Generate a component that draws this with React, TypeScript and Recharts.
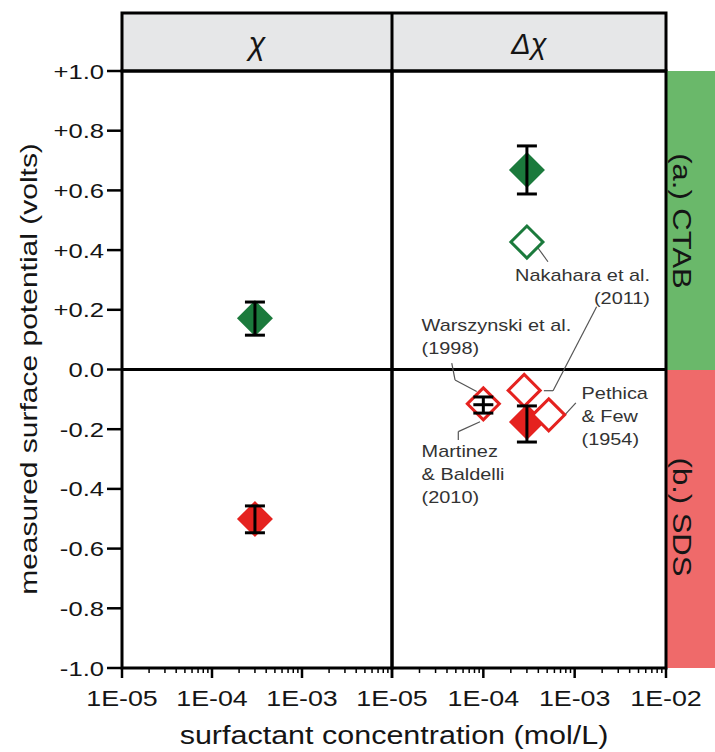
import React from "react";
import {
  ScatterChart,
  Scatter,
  XAxis,
  YAxis,
  ErrorBar,
  ReferenceArea,
  ReferenceLine,
} from "recharts";

const FONT = '"Liberation Sans", Arial, Helvetica, sans-serif';
const GREEN = "#1b7a3c";
const RED = "#e5221f";
const INK = "#151515";

// axis ticks
const xTicks = [
  1e-5, 2e-5, 3e-5, 4e-5, 5e-5, 6e-5, 7e-5, 8e-5, 9e-5,
  1e-4, 2e-4, 3e-4, 4e-4, 5e-4, 6e-4, 7e-4, 8e-4, 9e-4,
  1e-3, 2e-3, 3e-3, 4e-3, 5e-3, 6e-3, 7e-3, 8e-3, 9e-3,
  1e-2,
];
const yTicks = [-1, -0.8, -0.6, -0.4, -0.2, 0, 0.2, 0.4, 0.6, 0.8, 1];

// chi panel (left)
const chiCtab = [{ x: 3e-4, y: 0.172, err: [0.057, 0.054] }];
const chiSds = [{ x: 3e-4, y: -0.501, err: [0.046, 0.044] }];

// delta chi panel (right)
const dchiCtab = [{ x: 3e-4, y: 0.668, err: [0.08, 0.081] }];
const dchiCtabLit = [{ x: 3e-4, y: 0.427 }];
const dchiSds = [{ x: 3e-4, y: -0.176, err: [0.067, 0.054] }];
const dchiSdsLit = [
  { x: 1e-4, y: -0.115 },
  { x: 2.8e-4, y: -0.07 },
  { x: 5.2e-4, y: -0.152 },
];
const martinez = [{ x: 1e-4, y: -0.118, err: [0.028, 0.026] }];

// literature labels + leader lines (data coordinates)
const annotations = [
  { x: 6.68e-3, y: 0.296, anchor: "end", lines: ["Nakahara et al.", "(2011)"] },
  { x: 2.11e-5, y: 0.129, anchor: "start", lines: ["Warszynski et al.", "(1998)"] },
  { x: 2.11e-5, y: -0.293, anchor: "start", lines: ["Martinez", "& Baldelli", "(2010)"] },
  { x: 1.19e-3, y: -0.099, anchor: "start", lines: ["Pethica", "& Few", "(1954)"] },
];
const leaders = [
  [[3.97e-4, 0.407], [5.1e-4, 0.361]],
  [[4.6e-4, -0.071], [5.8e-4, -0.071], [1.74e-3, 0.21]],
  [[4.51e-5, 0.021], [4.9e-5, -0.035], [8.46e-5, -0.074]],
  [[9.2e-5, -0.175], [5.32e-5, -0.208], [5.32e-5, -0.236]],
  [[7.5e-4, -0.158], [1.03e-3, -0.112]],
];

const diamond = (cx: number, cy: number, r: number) =>
  `${cx},${cy - r} ${cx + r},${cy} ${cx},${cy + r} ${cx - r},${cy}`;

const filled = (color: string) => (p: any) =>
  <polygon points={diamond(p.cx, p.cy, 18)} fill={color} />;

const open = (color: string) => (p: any) =>
  <polygon points={diamond(p.cx, p.cy, 16)} fill="#fff" stroke={color} strokeWidth={3} />;

const dash = (p: any) =>
  <line x1={p.cx - 10} x2={p.cx + 10} y1={p.cy} y2={p.cy} stroke="#000" strokeWidth={3} />;

const AnnotationText = (p: any) => {
  const a = p.payload ?? p;
  return (
    <text
      transform={`translate(${p.cx},${p.cy}) scale(1.17,1)`}
      textAnchor={a.anchor}
      fontSize={17}
      fontFamily={FONT}
      fill="#333"
    >
      {a.lines.map((l: string, i: number) => (
        <tspan key={i} x={0} dy={i === 0 ? 0 : 23}>
          {l}
        </tspan>
      ))}
    </text>
  );
};

const YTick = (p: any) => {
  const v = p.payload.value;
  const label = v > 0 ? `+${v.toFixed(1)}` : v.toFixed(1);
  return (
    <g>
      <line x1={p.x - 15} x2={p.x} y1={p.y} y2={p.y} stroke="#000" strokeWidth={2.5} />
      <text
        transform={`translate(${p.x - 18},${p.y + 7.5}) scale(1.22,1)`}
        textAnchor="end"
        fontSize={21}
        fontFamily={FONT}
        fill={INK}
      >
        {label}
      </text>
    </g>
  );
};

const XTick = (p: any) => {
  const v = p.payload.value;
  const lg = Math.log10(v);
  const major = Math.abs(lg - Math.round(lg)) < 1e-6;
  const show = major && !(p.hideLast && Math.round(lg) === -2);
  return (
    <g>
      <line
        x1={p.x}
        x2={p.x}
        y1={p.y}
        y2={p.y + (major ? 10 : 5)}
        stroke="#000"
        strokeWidth={major ? 2.5 : 1.5}
      />
      {show && (
        <text
          transform={`translate(${p.x},${p.y + 38}) scale(1.22,1)`}
          textAnchor="middle"
          fontSize={22}
          fontFamily={FONT}
          fill={INK}
        >
          {"1E-" + String(-Math.round(lg)).padStart(2, "0")}
        </text>
      )}
    </g>
  );
};

// error bars sit on top of the diamonds, as in the figure
const errBar = (
  <ErrorBar
    dataKey="err"
    direction="y"
    width={10}
    stroke="#000"
    strokeWidth={3}
    {...({ zIndex: 700 } as any)}
  />
);

function xAxis(hideLast: boolean) {
  return (
    <XAxis
      type="number"
      dataKey="x"
      scale="log"
      domain={[1e-5, 1e-2]}
      ticks={xTicks}
      interval={0}
      tick={(p: any) => <XTick {...p} hideLast={hideLast} />}
      tickLine={false}
      axisLine={false}
      tickSize={0}
      tickMargin={0}
      height={84}
      allowDataOverflow
    />
  );
}

export default function App() {
  return (
    <div style={{ position: "absolute", left: 0, top: 0, width: 715, height: 752, background: "#fff" }}>
      <svg width={715} height={752} style={{ position: "absolute", left: 0, top: 0 }}>
        <rect x={122} y={13} width={544} height={58} fill="#e6e7e8" stroke="#000" strokeWidth={3} />
        <line x1={392} x2={392} y1={13} y2={71} stroke="#000" strokeWidth={3} />
        <text x={257} y={54} textAnchor="middle" fontSize={31} fontStyle="italic" fontFamily={FONT} fill={INK}>
          χ
        </text>
        <text x={529} y={54} textAnchor="middle" fontSize={29} fontStyle="italic" fontFamily={FONT} fill={INK}>
          Δχ
        </text>
        <rect x={666} y={71} width={49} height={299} fill="#6ab86a" />
        <rect x={666} y={370} width={49} height={298} fill="#ef6a6a" />
        <text
          transform="translate(673,221) rotate(90) scale(1.24,1)"
          textAnchor="middle"
          fontSize={25}
          fontFamily={FONT}
          fill={INK}
        >
          (a.) CTAB
        </text>
        <text
          transform="translate(673,517) rotate(90) scale(1.24,1)"
          textAnchor="middle"
          fontSize={25}
          fontFamily={FONT}
          fill={INK}
        >
          (b.) SDS
        </text>
        <text
          transform="translate(37,369) rotate(-90) scale(1.25,1)"
          textAnchor="middle"
          fontSize={24}
          fontFamily={FONT}
          fill={INK}
        >
          measured surface potential (volts)
        </text>
        <text
          transform="translate(394,744) scale(1.22,1)"
          textAnchor="middle"
          fontSize={25}
          fontFamily={FONT}
          fill={INK}
        >
          surfactant concentration (mol/L)
        </text>
      </svg>

      <div style={{ position: "absolute", left: 0, top: 0 }}>
        <ScatterChart width={400} height={752} margin={{ top: 71, right: 8, bottom: 0, left: 0 }}>
          {xAxis(true)}
          <YAxis
            type="number"
            dataKey="y"
            domain={[-1, 1]}
            ticks={yTicks}
            interval={0}
            tick={YTick}
            tickLine={false}
            axisLine={false}
            tickSize={0}
            tickMargin={0}
            width={122}
            allowDataOverflow
          />
          <ReferenceArea x1={1e-5} x2={1e-2} y1={-1} y2={1} fill="none" stroke="#000" strokeWidth={3} />
          <ReferenceLine y={0} stroke="#000" strokeWidth={3} />
          <Scatter data={chiCtab} shape={filled(GREEN)} isAnimationActive={false}>
            {errBar}
          </Scatter>
          <Scatter data={chiSds} shape={filled(RED)} isAnimationActive={false}>
            {errBar}
          </Scatter>
        </ScatterChart>
      </div>

      <div style={{ position: "absolute", left: 340, top: 0 }}>
        <ScatterChart width={375} height={752} margin={{ top: 71, right: 49, bottom: 0, left: 52 }}>
          {xAxis(false)}
          <YAxis type="number" dataKey="y" domain={[-1, 1]} hide allowDataOverflow />
          <ReferenceArea x1={1e-5} x2={1e-2} y1={-1} y2={1} fill="none" stroke="#000" strokeWidth={3} />
          <ReferenceLine y={0} stroke="#000" strokeWidth={3} />
          {leaders.map((pts, i) =>
            pts.slice(1).map((pt, j) => (
              <ReferenceLine
                key={`${i}-${j}`}
                segment={[
                  { x: pts[j][0], y: pts[j][1] },
                  { x: pt[0], y: pt[1] },
                ]}
                stroke="#555"
                strokeWidth={1.2}
              />
            ))
          )}
          <Scatter data={dchiCtab} shape={filled(GREEN)} isAnimationActive={false}>
            {errBar}
          </Scatter>
          <Scatter data={dchiCtabLit} shape={open(GREEN)} isAnimationActive={false} />
          <Scatter data={dchiSds} shape={filled(RED)} isAnimationActive={false}>
            {errBar}
          </Scatter>
          <Scatter data={dchiSdsLit} shape={open(RED)} isAnimationActive={false} />
          <Scatter data={martinez} shape={dash} isAnimationActive={false}>
            {errBar}
          </Scatter>
          <Scatter data={annotations} shape={AnnotationText} isAnimationActive={false} />
        </ScatterChart>
      </div>
    </div>
  );
}
